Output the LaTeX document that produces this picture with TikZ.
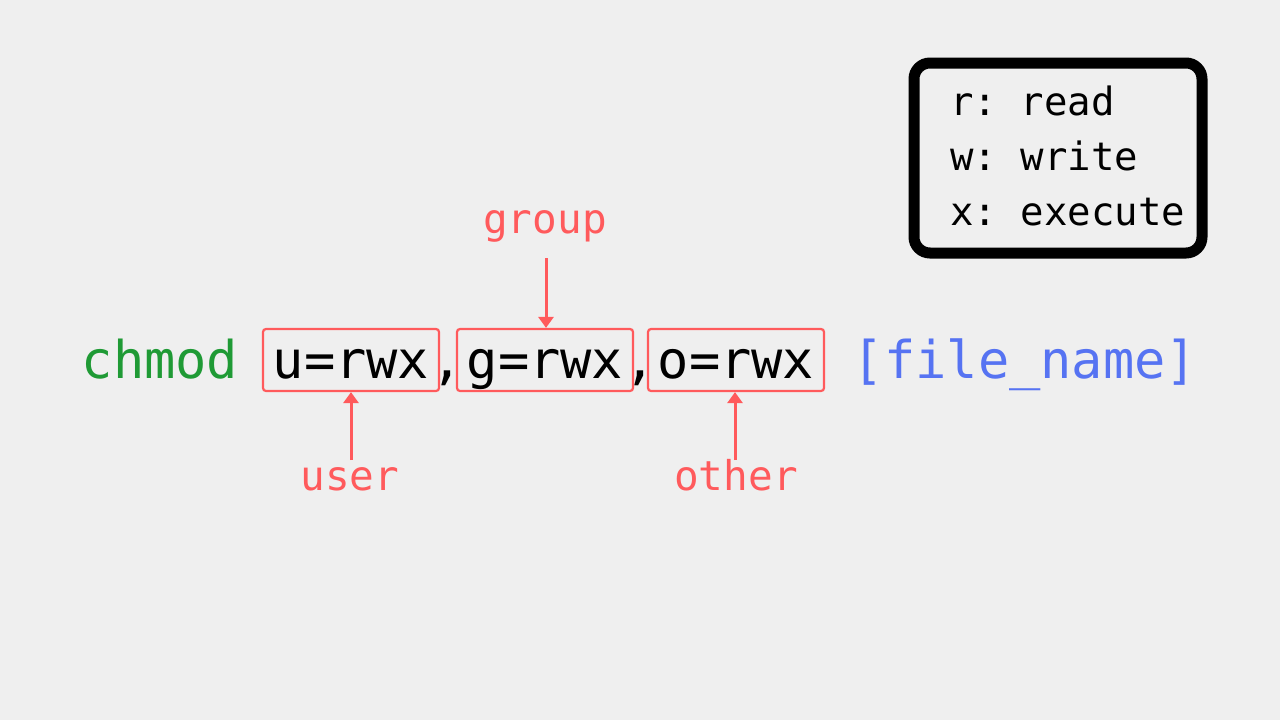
\documentclass[tikz,border=0pt]{standalone}
\usepackage{fontspec}
\setmonofont{DejaVu Sans Mono}
\usetikzlibrary{arrows.meta}
\definecolor{bg}{HTML}{EFEFEF}
\definecolor{cgreen}{HTML}{1F9A35}
\definecolor{cblue}{HTML}{5673F2}
\definecolor{cred}{HTML}{FF5A5C}
\tikzset{
  big/.style={font=\ttfamily\fontsize{52}{52}\selectfont, inner sep=0pt, anchor=base},
  lbl/.style={font=\ttfamily\fontsize{41}{41}\selectfont, inner sep=0pt, anchor=base, text=cred},
  leg/.style={font=\ttfamily\fontsize{39}{39}\selectfont, inner sep=0pt, anchor=base west, text=black},
  permbox/.style={draw=cred, line width=2.2pt, rounded corners=3pt},
  parrow/.style={draw=cred, line width=3pt, -{Triangle[length=11pt,width=15pt]}}
}
\begin{document}
\begin{tikzpicture}[x=1pt,y=-1pt]
\fill[bg] (0,0) rectangle (1280,720);
\useasboundingbox (0,0) rectangle (1280,720);
% main line
\node[big, text=cgreen] (chmod) at (160,378) {chmod};
\node[big] (u) at (351,378) {u=rwx};
\node[big] (c1) at (447,378) {,};
\node[big] (g) at (545,378) {g=rwx};
\node[big] (c2) at (640,378) {,};
\node[big] (o) at (736,378) {o=rwx};
\node[big, text=cblue] (file) at (1025,378) {[file\_name]};
% boxes
\node[permbox, minimum width=176pt, minimum height=62pt] (ub) at (351,360) {};
\node[permbox, minimum width=176pt, minimum height=62pt] (gb) at (545,360) {};
\node[permbox, minimum width=176pt, minimum height=62pt] (ob) at (736,360) {};
% labels
\node[lbl] (grp) at (545,233) {group};
\node[lbl] (usr) at (350,490) {user};
\node[lbl] (oth) at (736,490) {other};
\coordinate (gs) at (546,258);
\coordinate (us) at (351,460);
\coordinate (os) at (735,460);
\draw[parrow] (gs) -- (gs |- gb.north);
\draw[parrow] (us) -- (us |- ub.south);
\draw[parrow] (os) -- (os |- ob.south);
% legend
\draw[line width=11pt, rounded corners=16pt] (914,63) rectangle (1202,253);
\node[leg] (lr) at (950,115) {r: read};
\node[leg] (lw) at (950,170) {w: write};
\node[leg] (lx) at (950,225) {x: execute};
\end{tikzpicture}
\end{document}
